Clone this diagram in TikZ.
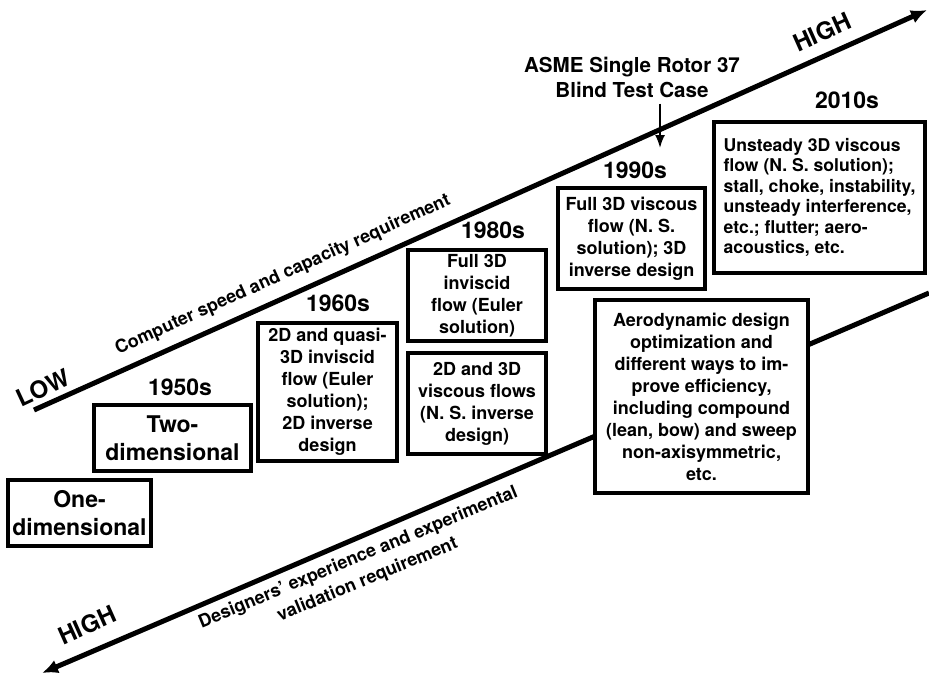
\documentclass[tikz,border=0pt]{standalone}
\usepackage{fontspec}
\setmainfont{TeX Gyre Heros}
\usetikzlibrary{arrows.meta}
\tikzset{
    stagebox/.style={draw,line width=2pt,fill=white,align=center,inner sep=1pt,
        font=\bfseries\fontsize{9}{11}\selectfont},
    bigbox/.style={stagebox,font=\bfseries\fontsize{11.5}{14}\selectfont},
    decade/.style={font=\bfseries\fontsize{11.5}{14}\selectfont},
    trendline/.style={line width=2.5pt,-{Latex[length=8pt,width=7pt]}},
    trendlabel/.style={font=\bfseries\fontsize{9}{12}\selectfont,align=center},
    levellabel/.style={font=\bfseries\fontsize{12}{14}\selectfont},
}

\begin{document}
\begin{tikzpicture}[x=0.5pt,y=-0.5pt]
\useasboundingbox (0,0) rectangle (929,677);
% the two trend lines
\coordinate (cmplow) at (34,410);
\coordinate (cmphigh) at (927,10);
\coordinate (expstart) at (929,293);
\coordinate (exphigh) at (42,673);
\draw[trendline] (cmplow) -- (cmphigh);
\draw[trendline] (expstart) -- (exphigh);
% stages
\node[bigbox,minimum width=71.5pt,minimum height=33pt] (one) at (79.5,513) {One-\\dimensional};
\node[bigbox,minimum width=78.5pt,minimum height=33pt] (two) at (172.5,438) {Two-\\dimensional};
\node[stagebox,minimum width=69.5pt,minimum height=69pt] (sixties) at (327.5,392)
    {2D and quasi-\\3D inviscid\\flow (Euler\\solution);\\2D inverse\\design};
\node[stagebox,minimum width=69pt,minimum height=45.5pt] (eightiesA) at (477,295.5)
    {Full 3D\\inviscid\\flow (Euler\\solution)};
\node[stagebox,minimum width=69pt,minimum height=50.5pt] (eightiesB) at (477,403.5)
    {2D and 3D\\viscous flows\\(N. S. inverse\\design)};
\node[stagebox,minimum width=73.5pt,minimum height=50.5pt] (nineties) at (631.5,238.5)
    {Full 3D viscous\\flow (N. S.\\solution); 3D\\inverse design};
\node[stagebox,align=left,minimum width=105.5pt,minimum height=75.5pt,
    font=\bfseries\fontsize{8.8}{10.2}\selectfont] (tens) at (819.5,197.5)
    {Unsteady 3D viscous\\flow (N. S. solution);\\stall, choke, instability,\\unsteady interference,\\etc.; flutter; aero-\\acoustics, etc.};
\node[stagebox,minimum width=106.5pt,minimum height=96.5pt] (aero) at (701.5,396.5)
    {Aerodynamic design\\optimization and\\different ways to im-\\prove efficiency,\\including compound\\(lean, bow) and sweep\\non-axisymmetric,\\etc.};
% decades
\node[decade] (d50) at (180,387) {1950s};
\node[decade] (d60) at (338,303) {1960s};
\node[decade] (d80) at (493,230) {1980s};
\node[decade] (d90) at (635,170) {1990s};
\node[decade] (d10) at (847,100) {2010s};
% rotor 37
\node[align=center,inner sep=3pt,font=\bfseries\fontsize{10.3}{12.5}\selectfont] (asme) at (632,77)
    {ASME Single Rotor 37\\Blind Test Case};
\coordinate (rotor) at (660,148);
\draw[line width=1pt,-{Latex[length=6.5pt,width=5pt]}] (asme.south -| rotor) -- (rotor);
% axis labels
\node[levellabel,rotate=25] (low) at (43,388) {LOW};
\node[levellabel,rotate=24] (highup) at (822,32) {HIGH};
\node[levellabel,rotate=24] (highdown) at (87,625) {HIGH};
\node[trendlabel,rotate=24.3] (cmplabel) at (283,275) {Computer speed and capacity requirement};
\node[trendlabel,rotate=22.5] (explabel) at (363,569)
    {Designers' experience and experimental\\validation requirement};
\end{tikzpicture}
\end{document}
